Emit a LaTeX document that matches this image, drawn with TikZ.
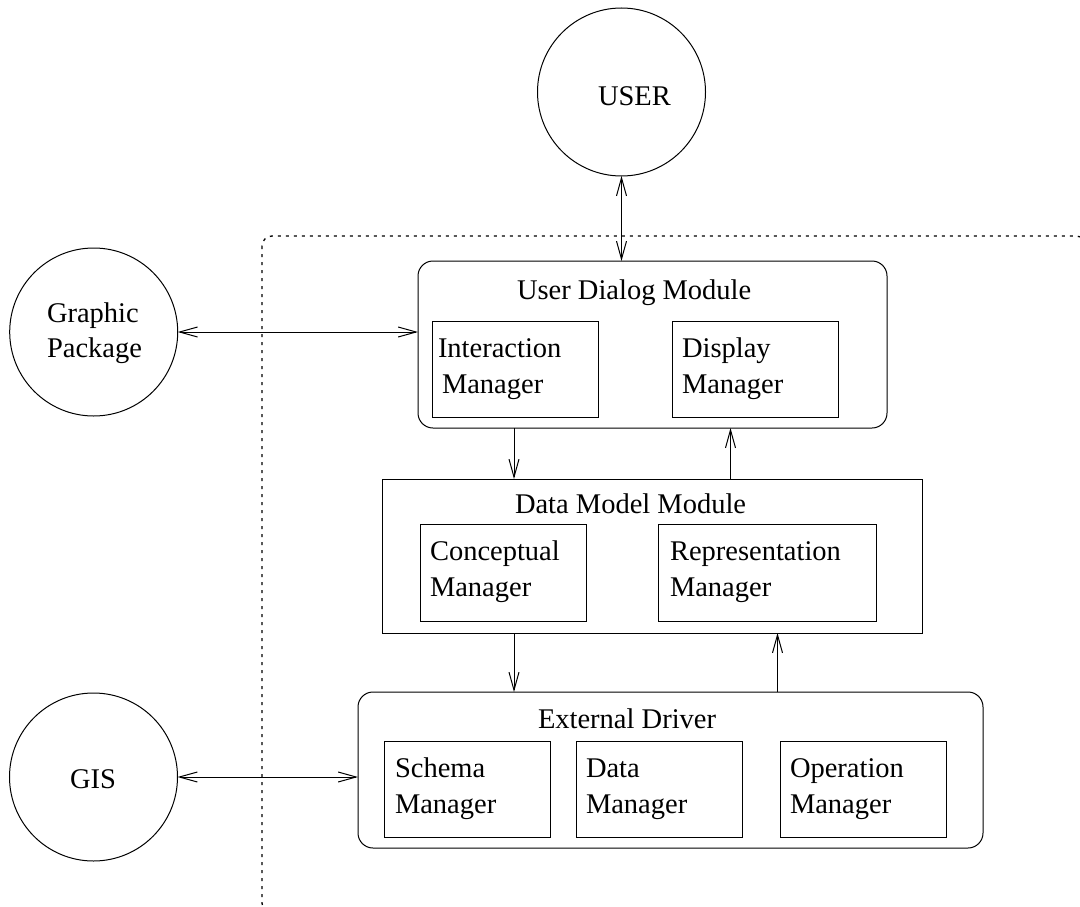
\documentclass[tikz,border=0pt]{standalone}
\usepackage{fontspec}
\setmainfont{Liberation Serif}
\usetikzlibrary{arrows.meta}
\begin{document}
\begin{tikzpicture}[x=1bp,y=-1bp,
  every node/.style={inner sep=0pt,outer sep=0pt},
  lbl/.style={font=\fontsize{28.5bp}{34bp}\selectfont,anchor=base west},
  lblc/.style={font=\fontsize{28.5bp}{34bp}\selectfont,anchor=base},
  ring/.style={draw,circle,line width=1bp,minimum size=168bp},
  inbox/.style={draw,rectangle,line width=1bp,anchor=north west},
  rbox/.style={draw,rectangle,rounded corners=15bp,line width=1bp,anchor=north west},
  tip/.style={-{Straight Barb[length=18bp,width=10bp,line width=1bp]},line width=1bp},
  bitip/.style={{Straight Barb[length=18bp,width=10bp,line width=1bp]}-{Straight Barb[length=18bp,width=10bp,line width=1bp]},line width=1bp},
  bound/.style={draw,line width=1.3bp,dash pattern=on 3bp off 5bp,rounded corners=10bp}]
\useasboundingbox (0,0) rectangle (1080,907);
\clip (0,0) rectangle (1080,907);
% system boundary
\draw[bound] (262,236) rectangle (1086,913);
% external circles
\node[ring] (user) at (621.5,92) {};
\node[lbl] (usert) at (598,105) {USER};
\node[ring] (gp) at (93.7,332) {};
\node[lbl] (gpt1) at (47,322) {Graphic};
\node[lbl] (gpt2) at (47,357) {Package};
\node[ring] (gis) at (93.5,777) {};
\node[lblc] (gist) at (93,788) {GIS};
% User Dialog Module
\node[rbox,minimum width=469bp,minimum height=167bp] (udm) at (418,261) {};
\node[lbl] (udmt) at (517,299) {User Dialog Module};
\node[inbox,minimum width=166bp,minimum height=96bp] (im) at (432,321) {};
\node[lbl] (imt1) at (438,357) {Interaction};
\node[lbl] (imt2) at (442,393) {Manager};
\node[inbox,minimum width=166bp,minimum height=96bp] (dm) at (672,321) {};
\node[lbl] (dmt1) at (682,357) {Display};
\node[lbl] (dmt2) at (682,393) {Manager};
% Data Model Module
\node[inbox,minimum width=540bp,minimum height=154bp] (dmm) at (382,479) {};
\node[lbl] (dmmt) at (515,513) {Data Model Module};
\node[inbox,minimum width=166bp,minimum height=97bp] (cm) at (420,524) {};
\node[lbl] (cmt1) at (430,560) {Conceptual};
\node[lbl] (cmt2) at (430,596) {Manager};
\node[inbox,minimum width=218bp,minimum height=97bp] (rm) at (658,524) {};
\node[lbl] (rmt1) at (670,560) {Representation};
\node[lbl] (rmt2) at (670,596) {Manager};
% External Driver
\node[rbox,minimum width=625bp,minimum height=156bp] (ed) at (358,692) {};
\node[lbl] (edt) at (538,728) {External Driver};
\node[inbox,minimum width=166bp,minimum height=96bp] (sm) at (384,741) {};
\node[lbl] (smt1) at (395,777) {Schema};
\node[lbl] (smt2) at (395,813) {Manager};
\node[inbox,minimum width=166bp,minimum height=96bp] (dam) at (576,741) {};
\node[lbl] (damt1) at (586,777) {Data};
\node[lbl] (damt2) at (586,813) {Manager};
\node[inbox,minimum width=166bp,minimum height=96bp] (om) at (780,741) {};
\node[lbl] (omt1) at (790,777) {Operation};
\node[lbl] (omt2) at (790,813) {Manager};
% guide coordinates
\coordinate (gy) at (0,332);
\coordinate (xa) at (514,0);
\coordinate (xb) at (730.5,0);
\coordinate (xc) at (777.5,0);
% connectors
\draw[bitip] (user.south) -- (user.south |- udm.north);
\draw[bitip] (gp.east |- gy) -- (udm.west |- gy);
\draw[bitip] (gis.east) -- (ed.west |- gis.east);
\draw[tip] (udm.south -| xa) -- (dmm.north -| xa);
\draw[tip] (dmm.north -| xb) -- (udm.south -| xb);
\draw[tip] (dmm.south -| xa) -- (ed.north -| xa);
\draw[tip] (ed.north -| xc) -- (dmm.south -| xc);
\end{tikzpicture}
\end{document}
